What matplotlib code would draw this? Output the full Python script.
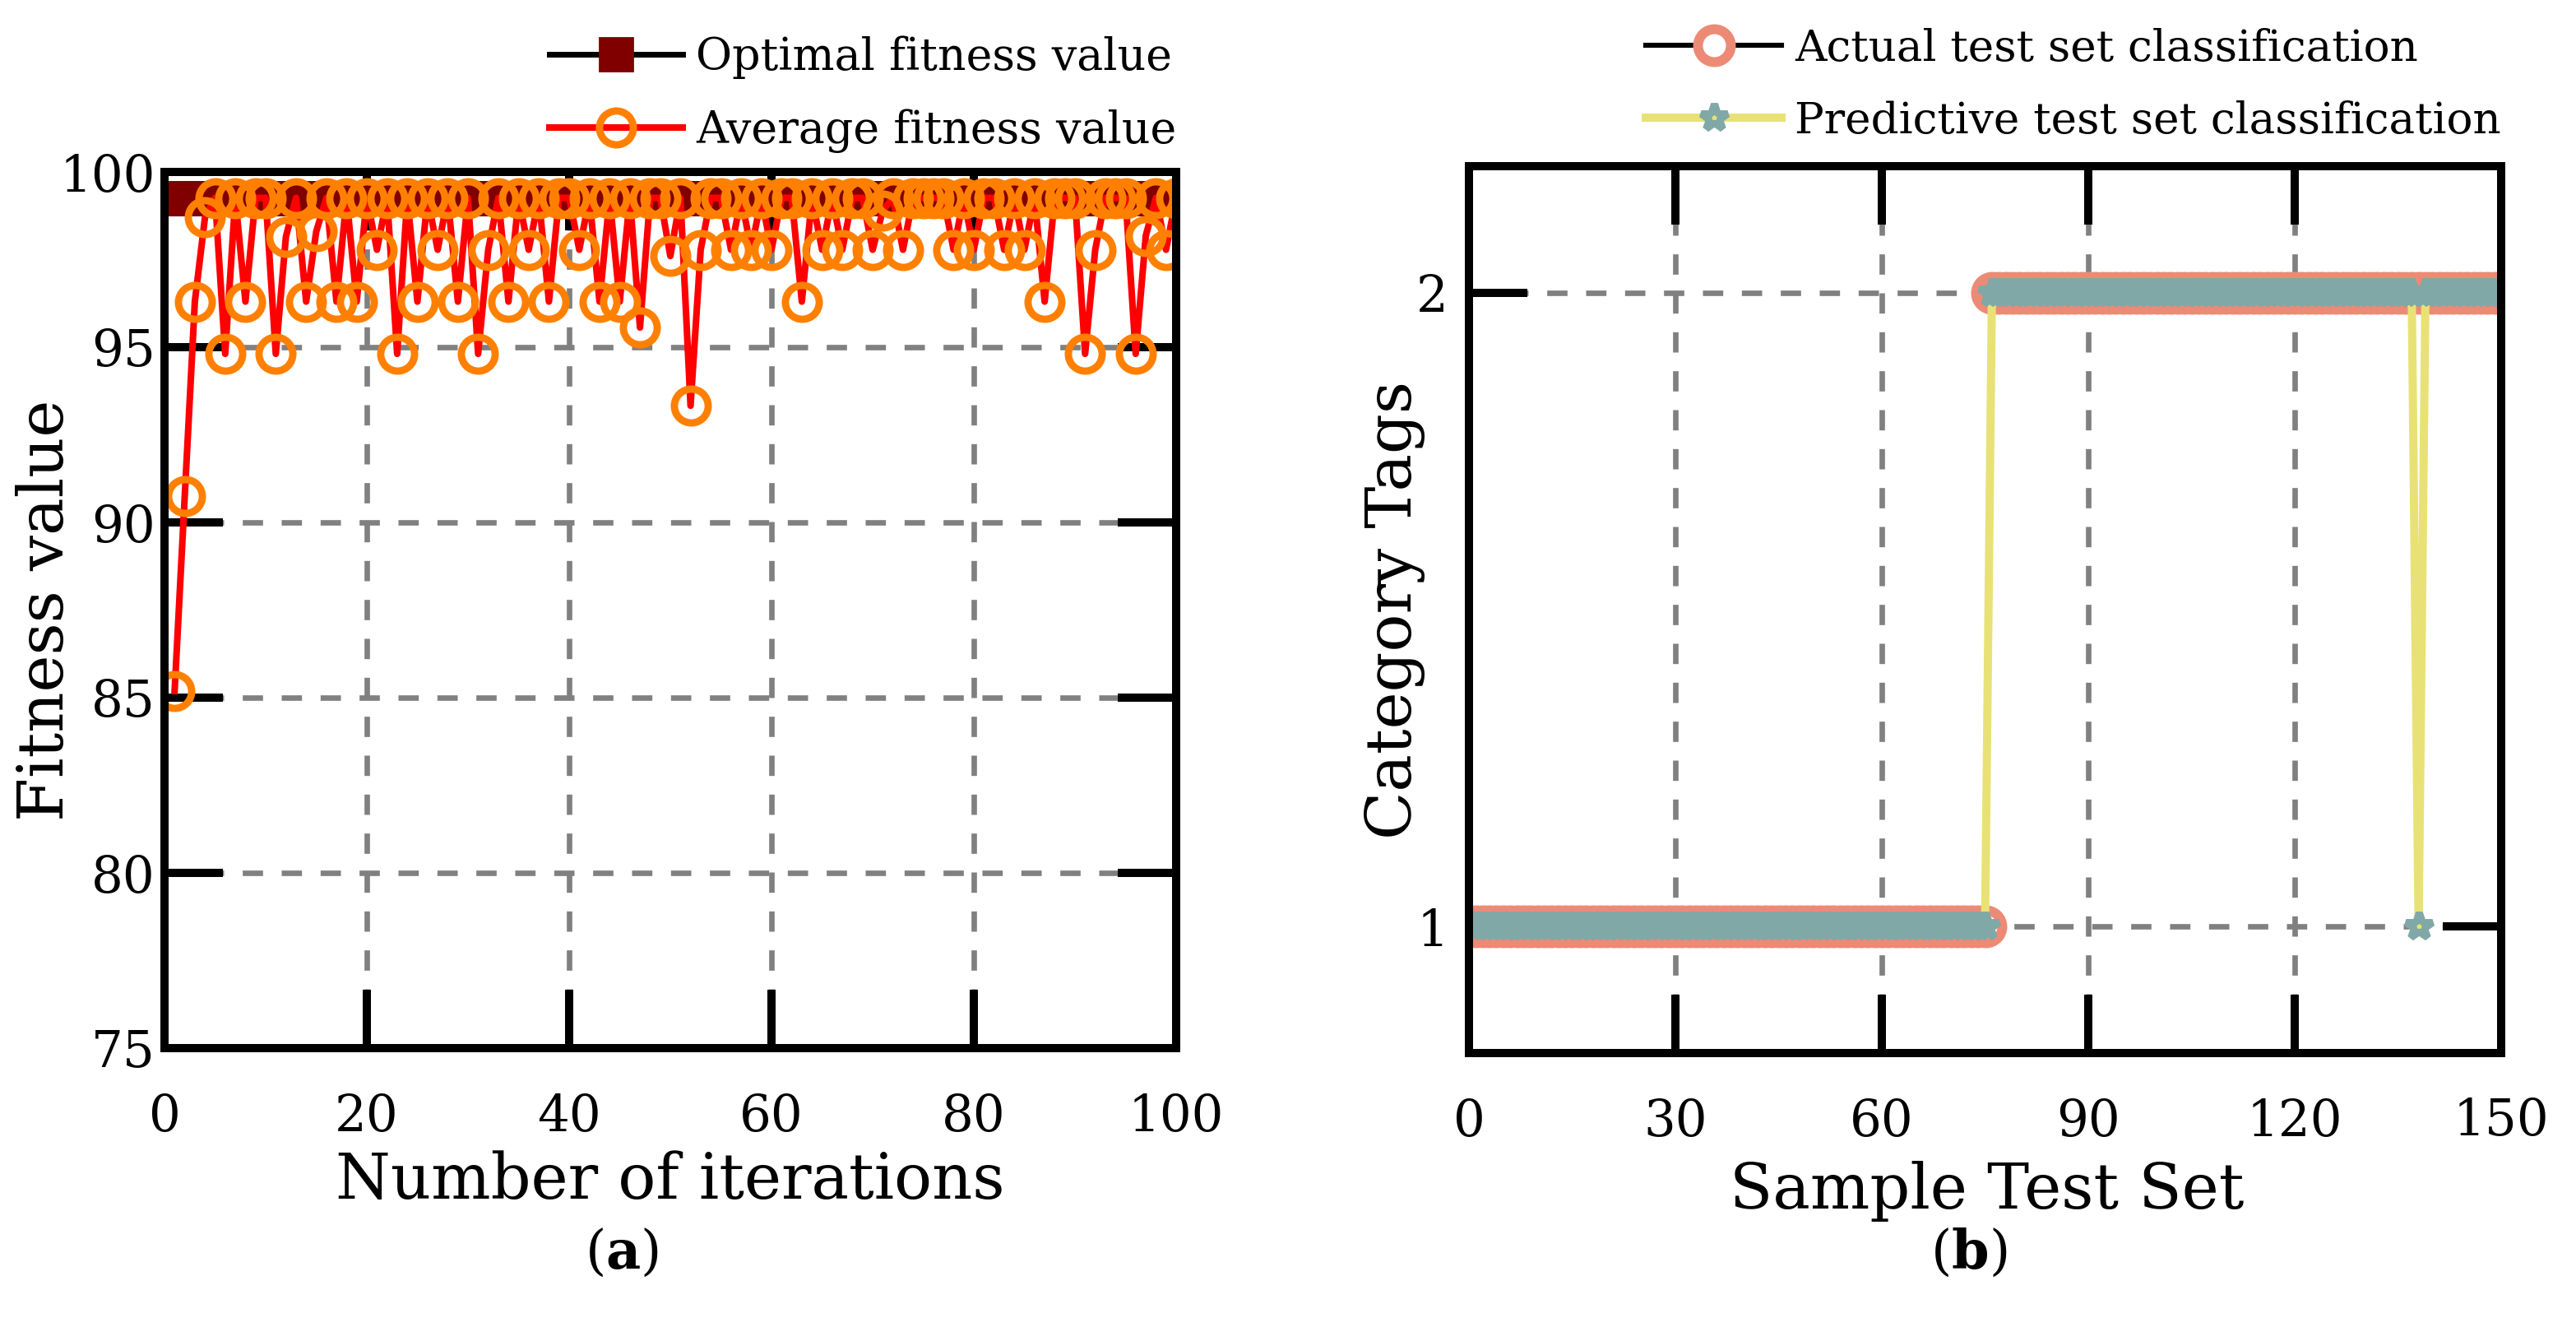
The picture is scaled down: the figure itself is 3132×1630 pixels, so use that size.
import numpy as np
import matplotlib.pyplot as plt

plt.rcParams['font.family'] = ['DejaVu Serif']
plt.rcParams['mathtext.fontset'] = 'dejavuserif'

# ---- data (a): fitness curves ----
iters = list(range(1, 101))
T = 99.26
avg_fitness = [85.19, 90.74, 96.30, 98.70, T, 94.81, T, 96.30, T, T,
               94.81, 98.15, T, 96.30, 98.30, T, 96.30, T, 96.30, T,
               97.78, T, 94.81, T, 96.30, T, 97.78, T, 96.30, T,
               94.81, 97.78, T, 96.30, T, 97.78, T, 96.30, T, T,
               97.78, T, 96.30, T, 96.30, T, 95.56, T, T, 97.60,
               T, 93.33, 97.78, T, T, 97.78, T, 97.78, T, 97.78,
               T, T, 96.30, T, 97.78, T, 97.78, T, T, 97.78,
               98.90, T, 97.78, T, T, T, T, 97.78, T, 97.78,
               T, T, 97.78, T, 97.78, T, 96.30, T, T, T,
               94.81, 97.78, T, T, T, 94.81, 98.18, T, 97.78, T]
best_fitness = [T] * 100

# ---- data (b): classification ----
samples = list(range(1, 151))
actual = [1] * 75 + [2] * 75
predicted = [1] * 75 + [2] * 62 + [1] + [2] * 12

W, H, DPI = 3132, 1630, 200
fig = plt.figure(figsize=(W / DPI, H / DPI), dpi=DPI)

ax1 = fig.add_axes([200 / W, 356 / H, 1230 / W, 1065 / H])
ax2 = fig.add_axes([1786 / W, 350 / H, 1255 / W, 1078 / H])

grid_kw = dict(color='#808080', linewidth=2.4, linestyle=(0, (3.7, 3.4)))


def style_axes(ax):
    ax.set_axisbelow(True)
    for s in ax.spines.values():
        s.set_linewidth(3.6)
    ax.tick_params(direction='in', length=25.5, width=3.6, top=True, right=True,
                   labelsize=22)
    ax.tick_params(axis='x', pad=19)
    ax.grid(True, **grid_kw)


# (a)
ax1.plot(iters, best_fitness, color='black', linewidth=2.5, marker='s',
         markersize=14.5, markerfacecolor='#800000', markeredgecolor='#800000',
         markeredgewidth=1, label='Optimal fitness value')
ax1.plot(iters, avg_fitness, color='#FF0000', linewidth=2.9, marker='o',
         markersize=14.8, markerfacecolor='none', markeredgecolor='#FF8000',
         markeredgewidth=3.2, label='Average fitness value')
ax1.set_xlim(0, 100)
ax1.set_ylim(75, 100)
ax1.set_xticks([0, 20, 40, 60, 80, 100])
ax1.set_yticks([75, 80, 85, 90, 95, 100])
style_axes(ax1)
ax1.tick_params(axis='y', pad=4)
ax1.set_xlabel('Number of iterations', fontsize=27.5)
ax1.set_ylabel('Fitness value', fontsize=27.5)
ax1.xaxis.label.set_va('center')
ax1.yaxis.label.set_va('center')
ax1.xaxis.set_label_coords(0.5, -0.152)
ax1.yaxis.set_label_coords(-0.117, 0.5)
ax1.legend(loc='lower right', bbox_to_anchor=(1.0, 1.022), borderaxespad=0,
           borderpad=0, frameon=False, fontsize=19.4, handlelength=3.0,
           handletextpad=0.3, labelspacing=0.67)

# (b)
ax2.plot(samples, actual, color='black', linewidth=2.2, marker='o',
         markersize=14.4, markerfacecolor='white', markeredgecolor='#ED8A76',
         markeredgewidth=4.3, label='Actual test set classification')
ax2.plot(samples, predicted, color='#E8E276', linewidth=3.6, marker='*',
         markersize=12, markerfacecolor='none', markeredgecolor='#80A8A6',
         markeredgewidth=3.2, label='Predictive test set classification')
ax2.set_xlim(0, 150)
ax2.set_ylim(0.8, 2.2)
ax2.set_xticks([0, 30, 60, 90, 120, 150])
ax2.set_yticks([1, 2])
style_axes(ax2)
ax2.tick_params(axis='y', pad=9)
ax2.set_xlabel('Sample Test Set', fontsize=27.5)
ax2.set_ylabel('Category Tags', fontsize=27.5)
ax2.xaxis.label.set_va('center')
ax2.yaxis.label.set_va('center')
ax2.xaxis.set_label_coords(0.502, -0.156)
ax2.yaxis.set_label_coords(-0.072, 0.5)
ax2.legend(loc='lower right', bbox_to_anchor=(1.0, 1.027), borderaxespad=0,
           borderpad=0, frameon=False, fontsize=19.2, handlelength=3.1,
           handletextpad=0.3, labelspacing=0.7)

fig.text(756 / W, 1 - 1524 / H, r'($\mathbf{a}$)', ha='center', va='center', fontsize=23.5)
fig.text(2394 / W, 1 - 1524 / H, r'($\mathbf{b}$)', ha='center', va='center', fontsize=23.5)

fig.savefig('out.png', dpi=DPI)
